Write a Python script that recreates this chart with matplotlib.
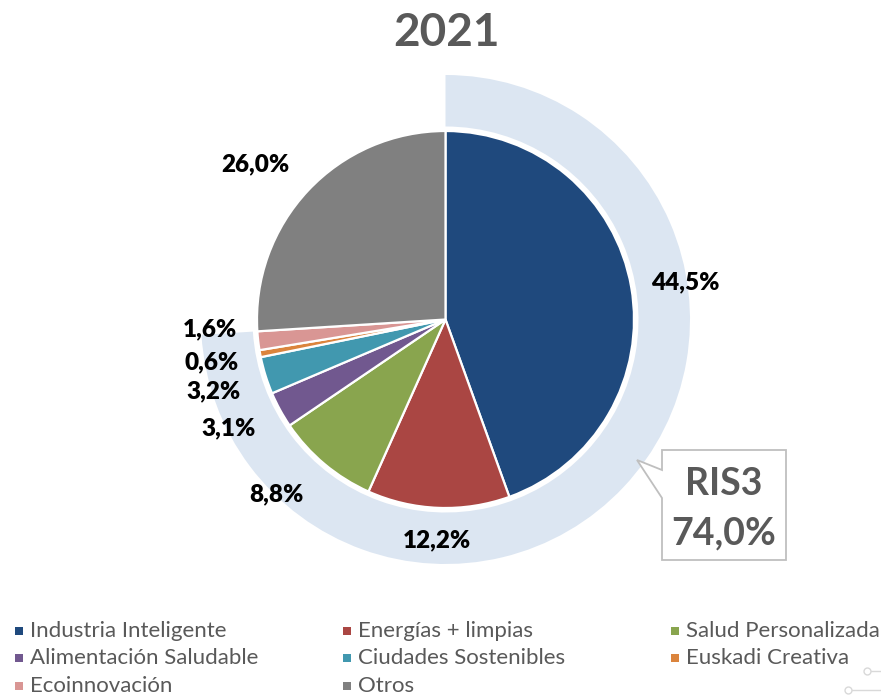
import numpy as np
import matplotlib
matplotlib.use("Agg")
import matplotlib.pyplot as plt
from matplotlib.patches import Wedge, Rectangle, Polygon
from matplotlib.lines import Line2D

plt.rcParams['font.family'] = ['Lato', 'DejaVu Sans']

# data
categories = ['Industria Inteligente', 'Energías + limpias', 'Salud Personalizada',
              'Alimentación Saludable', 'Ciudades Sostenibles', 'Euskadi Creativa',
              'Ecoinnovación', 'Otros']
shares = [44.5, 12.2, 8.8, 3.1, 3.2, 0.6, 1.6, 26.0]
colors = ['#1F497D', '#AA4643', '#89A54E', '#71588F', '#4198AF', '#DB843D',
          '#D99694', '#808080']
ris3_members = 7  # first seven categories belong to RIS3
year = '2021'

W, H = 881, 695
fig = plt.figure(figsize=(W / 100, H / 100), dpi=100)
ax = fig.add_axes([0, 0, 1, 1])

cx, cy, R = 445.5, 375.5, 188.5
gray_txt = '#595959'

# RIS3 ring behind the pie
ris3_total = sum(shares[:ris3_members])
ring = Wedge((cx, cy), 244.5, 90 - 360 * ris3_total / 100, 90, width=244.5 - 193,
             facecolor='#DCE6F2', edgecolor='none', zorder=1)
ax.add_patch(ring)

wedges, _ = ax.pie(shares, colors=colors, startangle=90, counterclock=False,
                   center=(cx, cy), radius=R,
                   wedgeprops=dict(edgecolor='white', linewidth=1.6),
                   frame=True)
for w in wedges:
    w.set_zorder(2)
ax.set_xlim(0, W)
ax.set_ylim(0, H)
ax.set_aspect('equal')
ax.axis('off')

# percentage labels
radius_factor = {1: 1.17, 6: 1.25, 5: 1.26, 7: 1.30}
angle_shift = {0: -1.0, 6: -4.0, 7: 4.0, 2: -4.0, 3: -2.0}
for i, (w, v) in enumerate(zip(wedges, shares)):
    ang = np.deg2rad((w.theta1 + w.theta2) / 2 + angle_shift.get(i, 0))
    r = R * radius_factor.get(i, 1.29)
    ax.text(cx + r * np.cos(ang), cy + r * np.sin(ang),
            f'{v:.1f}%'.replace('.', ','), ha='center', va='center',
            fontsize=17.5, fontweight='heavy', color='black', zorder=5)

# title
fig.text(446 / W, 1 - 33 / H, year, ha='center', va='center',
         fontsize=33, fontweight='bold', color=gray_txt)

# RIS3 callout box
bx0, by0, bx1, by1 = 662, 450, 786, 560
box = Polygon([(bx0, H - by0), (bx1, H - by0), (bx1, H - by1), (bx0, H - by1),
               (bx0, H - 498), (637, H - 460), (bx0, H - 470)],
              closed=True, facecolor='white', edgecolor='#BFBFBF', linewidth=1.3, zorder=4)
ax.add_patch(box)
ax.text((bx0 + bx1) / 2, H - 484, 'RIS3', ha='center', va='center',
        fontsize=27, fontweight='bold', color=gray_txt, zorder=5)
ax.text((bx0 + bx1) / 2, H - 533, f'{ris3_total:.1f}%'.replace('.', ','),
        ha='center', va='center', fontsize=27, fontweight='bold', color=gray_txt, zorder=5)

# legend, three columns row-major
col_x = [15, 343, 671]
row_y = [631, 658, 686]
for i, (name, c) in enumerate(zip(categories, colors)):
    x = col_x[i % 3]
    y = row_y[i // 3]
    ax.add_patch(Rectangle((x, H - y - 4), 8, 8, facecolor=c, edgecolor='none'))
    ax.text(x + 15, H - y, name, ha='left', va='center', fontsize=16, color=gray_txt)

# faint slide decoration in the corner
for (px, py) in [(867, 671), (848, 690)]:
    ax.add_line(Line2D([px + 3, W], [H - py, H - py], color='#D9D9D9', linewidth=1))
    ax.plot(px, H - py, 'o', markersize=5, markerfacecolor='white',
            markeredgecolor='#D9D9D9', markeredgewidth=1)

fig.savefig('out.png', dpi=100, facecolor='white')
